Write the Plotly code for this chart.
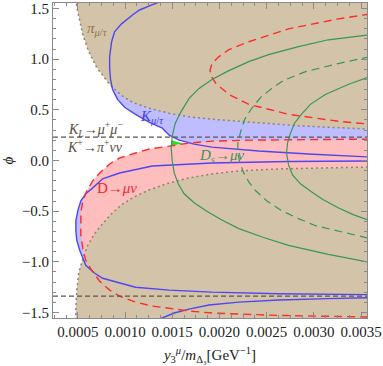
import plotly.graph_objects as go

# --- curves (x = y3^mu / m_Delta3 in GeV^-1, y = phi) ---

# K_mu/tau : upper "C" shaped contour
k_upper_x = [0.001416, 0.001363, 0.001258, 0.001153, 0.001079, 0.000963, 0.000889, 0.000858,
             0.000837, 0.000837, 0.000847, 0.000868, 0.000921, 0.000995, 0.001111, 0.001258,
             0.001395, 0.001468, 0.001574, 0.001732, 0.001921, 0.002416, 0.002942, 0.003595]
k_upper_y = [1.593, 1.564, 1.525, 1.485, 1.436, 1.348, 1.270, 1.172,
             1.025, 0.907, 0.799, 0.701, 0.603, 0.525, 0.456, 0.377,
             0.319, 0.250, 0.201, 0.162, 0.132, 0.093, 0.064, 0.034]
# same contour re-entering at phi = -pi/2
k_wrap_x = [0.001342, 0.001395, 0.001521, 0.001679, 0.001889, 0.002205, 0.002626, 0.003153, 0.003595]
k_wrap_y = [-1.574, -1.554, -1.505, -1.466, -1.426, -1.397, -1.377, -1.363, -1.353]
# lower "C" shaped contour
k_lower_x = [0.003595, 0.002732, 0.001921, 0.001289, 0.000942, 0.000763, 0.000658, 0.000584,
             0.000532, 0.000500, 0.000479, 0.000479, 0.000489, 0.000521, 0.000584, 0.000679,
             0.000763, 0.000942, 0.001111, 0.001468, 0.001921, 0.002626, 0.003595]
k_lower_y = [-0.005, -0.010, -0.025, -0.054, -0.123, -0.181, -0.270, -0.328,
             -0.397, -0.495, -0.593, -0.691, -0.789, -0.887, -1.034, -1.113,
             -1.162, -1.211, -1.250, -1.279, -1.299, -1.314, -1.324]

# D -> mu nu (dashed red)
d_x = [0.003595, 0.002837, 0.002311, 0.001921, 0.001679, 0.001468, 0.001258, 0.001111,
       0.000942, 0.000837, 0.000732, 0.000658, 0.000595, 0.000553, 0.000532, 0.000532,
       0.000532, 0.000553, 0.000584, 0.000647, 0.000732, 0.000837, 0.000942, 0.001111,
       0.001289, 0.001679, 0.001921, 0.002626, 0.003595]
d_y = [0.211, 0.206, 0.201, 0.191, 0.172, 0.142, 0.113, 0.074,
       0.025, -0.034, -0.123, -0.201, -0.299, -0.397, -0.515, -0.642,
       -0.740, -0.868, -0.985, -1.083, -1.191, -1.279, -1.338, -1.397,
       -1.436, -1.485, -1.505, -1.529, -1.544]
d_loop_x = [0.003595, 0.003258, 0.002732, 0.002311, 0.002100, 0.001995, 0.001921, 0.001900,
            0.001921, 0.001963, 0.002100, 0.002311, 0.002732, 0.003258, 0.003595]
d_loop_y = [1.446, 1.397, 1.299, 1.172, 1.093, 1.025, 0.956, 0.887,
            0.819, 0.760, 0.652, 0.554, 0.456, 0.387, 0.358]

# D_s -> mu nu (green)
ds1_x = [0.003595, 0.003153, 0.002837, 0.002521, 0.002311, 0.002100, 0.001921, 0.001784,
         0.001679, 0.001595, 0.001532, 0.001500, 0.001489, 0.001500, 0.001521, 0.001563,
         0.001626, 0.001732, 0.001858, 0.002016, 0.002205, 0.002468, 0.002732, 0.003153, 0.003595]
ds1_y = [1.240, 1.191, 1.123, 1.044, 0.975, 0.887, 0.799, 0.711,
         0.613, 0.485, 0.368, 0.240, 0.123, -0.005, -0.123, -0.230,
         -0.328, -0.417, -0.495, -0.583, -0.672, -0.760, -0.838, -0.926, -1.005]
ds2_x = [0.003595, 0.003258, 0.002911, 0.002679, 0.002553, 0.002437, 0.002342, 0.002268,
         0.002226, 0.002195, 0.002195, 0.002216, 0.002258, 0.002311, 0.002384, 0.002500,
         0.002658, 0.002837, 0.003016, 0.003311, 0.003595]
ds2_y = [1.025, 0.956, 0.877, 0.789, 0.711, 0.623, 0.515, 0.407,
         0.289, 0.172, 0.074, -0.025, -0.123, -0.211, -0.299, -0.397,
         -0.495, -0.574, -0.642, -0.711, -0.770]
ds3_x = [0.003595, 0.003363, 0.003121, 0.002963, 0.002868, 0.002795, 0.002753, 0.002721,
         0.002711, 0.002732, 0.002774, 0.002858, 0.002974, 0.003100, 0.003258, 0.003416, 0.003595]
ds3_y = [0.828, 0.750, 0.652, 0.554, 0.456, 0.368, 0.270, 0.172,
         0.074, -0.044, -0.142, -0.230, -0.309, -0.387, -0.466, -0.534, -0.593]
ds_patch_x = [0.00149, 0.00162, 0.00149]
ds_patch_y = [0.200, 0.168, 0.145]

# pi_mu/tau excluded region boundaries (dotted)
pi_up_x = [0.000479, 0.000479, 0.000500, 0.000521, 0.000553, 0.000616, 0.000700, 0.000837,
           0.000963, 0.001079, 0.001258, 0.001468, 0.001679, 0.001921, 0.002311, 0.002837, 0.003595]
pi_up_y = [1.593, 1.564, 1.466, 1.368, 1.240, 1.074, 0.917, 0.750,
           0.642, 0.574, 0.515, 0.466, 0.431, 0.407, 0.377, 0.343, 0.309]
pi_lo_x = [0.000479, 0.000479, 0.000489, 0.000511, 0.000553, 0.000605, 0.000679, 0.000763,
           0.000858, 0.000963, 0.001100, 0.001258, 0.001468, 0.001679, 0.001921, 0.002205,
           0.002626, 0.003047, 0.003595]
pi_lo_y = [-1.574, -1.475, -1.279, -1.103, -0.966, -0.838, -0.721, -0.623,
           -0.525, -0.436, -0.358, -0.289, -0.221, -0.172, -0.132, -0.103,
           -0.083, -0.074, -0.064]

# K_L -> mu mu and K+ -> pi nu nu bounds on phi
kl_bound = 0.23
kpi_bound = -1.338

x_range = [0.000237, 0.003563]
y_range = [-1.554, 1.554]

FONT = "Liberation Serif"
BROWN = "#D3C4A9"
EDGE_X = 0.0037
EDGE_Y = 1.65

fig = go.Figure()


def fill(xs, ys, color):
    fig.add_trace(go.Scatter(x=xs, y=ys, mode="lines", fill="toself", fillcolor=color,
                             line=dict(width=0), hoverinfo="skip", showlegend=False))


def curve(xs, ys, color, width=1.4, dash="solid"):
    fig.add_trace(go.Scatter(x=xs, y=ys, mode="lines", hoverinfo="skip", showlegend=False,
                             line=dict(color=color, width=width, dash=dash)))


# filled regions (drawn back to front)
fill(k_upper_x + [EDGE_X, EDGE_X, k_upper_x[0]], k_upper_y + [k_upper_y[-1], EDGE_Y, EDGE_Y], "#BDBDFF")
fill(k_lower_x, k_lower_y, "#BDBDFF")
fill(d_x, d_y, "#FFBEBE")
fill(pi_up_x + [EDGE_X, EDGE_X, pi_up_x[0]], pi_up_y + [pi_up_y[-1], EDGE_Y, EDGE_Y], BROWN)
fill(pi_lo_x + [EDGE_X, EDGE_X, pi_lo_x[0]], pi_lo_y + [pi_lo_y[-1], -EDGE_Y, -EDGE_Y], BROWN)
fill(ds_patch_x, ds_patch_y, "#2BE02B")

# boundaries
curve(pi_up_x, pi_up_y, "#8F8170", 1.5, "2px,3px")
curve(pi_lo_x, pi_lo_y, "#8F8170", 1.5, "2px,3px")
curve(k_upper_x, k_upper_y, "#5046F0", 1.4)
curve(k_wrap_x, k_wrap_y, "#5046F0", 1.4)
curve(k_lower_x, k_lower_y, "#5046F0", 1.4)
curve(d_x, d_y, "#FF2A2A", 1.4, "8px,5px")
curve(d_loop_x, d_loop_y, "#FF2A2A", 1.4, "8px,5px")
curve(ds1_x, ds1_y, "#3A9558", 1.2)
curve(ds2_x, ds2_y, "#3A9558", 1.2, "8px,5px")
curve(ds3_x, ds3_y, "#3A9558", 1.2)
curve(x_range, [kl_bound, kl_bound], "#5E5649", 1.2, "5px,3px")
curve(x_range, [kpi_bound, kpi_bound], "#5E5649", 1.2, "5px,3px")

labels = [
    (0.00071, 1.30, "<i>π</i><sub><i>μ</i>/<i>τ</i></sub>", "#8C7256", 15),
    (0.00129, 0.43, "<i>K</i><sub><i>μ</i>/<i>τ</i></sub>", "#4A3CE6", 15),
    (0.00069, 0.31, "<i>K</i><sub><i>L</i></sub>→<i>μ</i><sup>+</sup><i>μ</i><sup>−</sup>", "#5A4C3C", 14),
    (0.00068, 0.148, "<i>K</i><sup>+</sup>→<i>π</i><sup>+</sup><i>νν</i>", "#5A4C3C", 14),
    (0.00202, 0.045, "<i>D</i><sub><i>s</i></sub>→<i>μν</i>", "#3A9558", 15),
    (0.00092, -0.27, "D→<i>μν</i>", "#F02828", 15),
]
for lx, ly, txt, col, fs in labels:
    fig.add_annotation(x=lx, y=ly, text=txt, showarrow=False,
                       font=dict(family=FONT, size=fs, color=col))

axis_common = dict(showline=True, linecolor="#8A8A8A", linewidth=1.2, mirror="allticks",
                   ticks="inside", ticklen=6, tickcolor="#8A8A8A", showgrid=False, zeroline=False,
                   ticklabeloverflow="allow",
                   tickfont=dict(family=FONT, size=15, color="#222222"))

fig.update_xaxes(range=x_range, tick0=0, dtick=0.0005, tickformat=".4f",
                 minor=dict(dtick=0.000125, ticks="inside", ticklen=3, tickcolor="#8A8A8A"),
                 title=dict(text="<i>y</i><sub>3</sub><sup><i>μ</i></sup>/<i>m</i><sub>Δ₃</sub>[GeV<sup>−1</sup>]",
                            font=dict(family=FONT, size=15, color="#222222"), standoff=10),
                 **axis_common)
fig.update_yaxes(range=y_range, tick0=0, dtick=0.5, tickformat=".1f",
                 minor=dict(dtick=0.1, ticks="inside", ticklen=3, tickcolor="#8A8A8A"),
                 title=dict(text="<i>ϕ</i>", font=dict(family=FONT, size=15, color="#222222"),
                            standoff=4),
                 **axis_common)

fig.update_layout(width=383, height=366, margin=dict(l=53, r=14, t=1, b=48),
                  plot_bgcolor="white", paper_bgcolor="white", showlegend=False)

fig.write_html("out.html", config={"displayModeBar": False},
               post_script="document.body.style.margin='0';")
